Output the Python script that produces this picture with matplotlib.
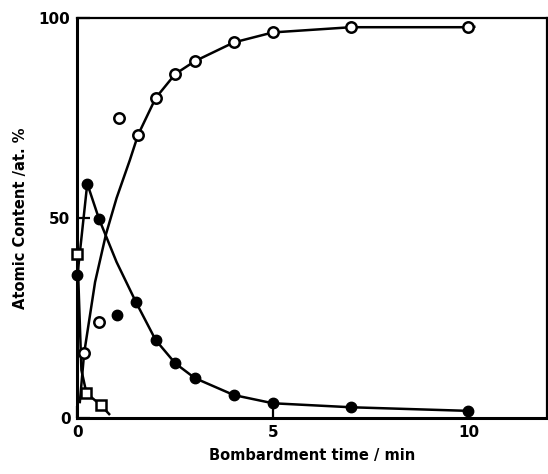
import numpy as np
import matplotlib
matplotlib.use('Agg')
import matplotlib.pyplot as plt

# open circles (rising component)
t_open = [0.17, 0.55, 1.06, 1.55, 2.0, 2.5, 3.0, 4.0, 5.0, 7.0, 10.0]
c_open = [16.2, 24.1, 75.1, 70.8, 80.0, 86.0, 89.2, 93.9, 96.4, 97.7, 97.7]
# curve drawn through the open circles
t_open_line = [0.06, 0.17, 0.45, 0.73, 1.0, 1.34, 1.55, 2.0, 2.5, 3.0, 4.0, 5.0, 7.0, 10.0, 10.15]
c_open_line = [4.0, 16.2, 34.0, 46.0, 55.0, 64.5, 70.8, 80.0, 86.0, 89.2, 93.9, 96.4, 97.7, 97.7, 97.8]

# filled circles
t_fill = [0.0, 0.25, 0.55, 1.01, 1.5, 2.0, 2.5, 3.0, 4.0, 5.0, 7.0, 10.0]
c_fill = [35.8, 58.6, 49.8, 25.7, 28.9, 19.5, 13.7, 10.0, 5.75, 3.7, 2.7, 1.8]
t_fill_line = [0.0, 0.25, 0.55, 1.0, 1.5, 2.0, 2.5, 3.0, 4.0, 5.0, 7.0, 10.0]
c_fill_line = [35.8, 58.6, 49.8, 39.0, 28.9, 19.5, 13.7, 10.0, 5.75, 3.7, 2.7, 1.8]

# open squares
t_sq = [0.0, 0.23, 0.59]
c_sq = [40.9, 6.2, 3.3]
t_sq_line = [0.0, 0.1, 0.23, 0.59, 0.81]
c_sq_line = [40.9, 12.0, 6.2, 3.3, 1.0]

xticks = [0, 5, 10]
yticks = [0, 50, 100]

plt.rcParams['font.family'] = 'DejaVu Sans'
plt.rcParams['font.weight'] = 'bold'

fig = plt.figure(figsize=(5.48, 4.74), dpi=100)
ax = fig.add_axes((0.1414, 0.118, 0.856, 0.844))

lw = 1.8
ax.plot(t_open_line, c_open_line, color='black', lw=lw, zorder=2)
ax.plot(t_fill_line, c_fill_line, color='black', lw=lw, zorder=2)
ax.plot(t_sq_line, c_sq_line, color='black', lw=lw, zorder=2)

ax.plot(t_open, c_open, 'o', ms=7.5, mfc='white', mec='black', mew=1.8, zorder=3, clip_on=False)
ax.plot(t_fill, c_fill, 'o', ms=7.5, mfc='black', mec='black', zorder=3, clip_on=False)
ax.plot(t_sq, c_sq, 's', ms=7, mfc='white', mec='black', mew=1.8, zorder=3, clip_on=False)

ax.set_xlim(0, 12)
ax.set_ylim(0, 100)
ax.set_xticks(xticks)
ax.set_yticks(yticks)
ax.tick_params(direction='in', length=9, width=1.6, labelsize=11, pad=5)
for s in ax.spines.values():
    s.set_linewidth(2.2)
ax.spines['right'].set_linewidth(1.6)
ax.spines['top'].set_linewidth(1.6)

ax.set_xlabel('Bombardment time / min', fontsize=10.5, fontweight='bold', labelpad=6)
ax.set_ylabel('Atomic Content /at. %', fontsize=10.5, fontweight='bold', labelpad=8)

fig.savefig('out.png', dpi=100)
